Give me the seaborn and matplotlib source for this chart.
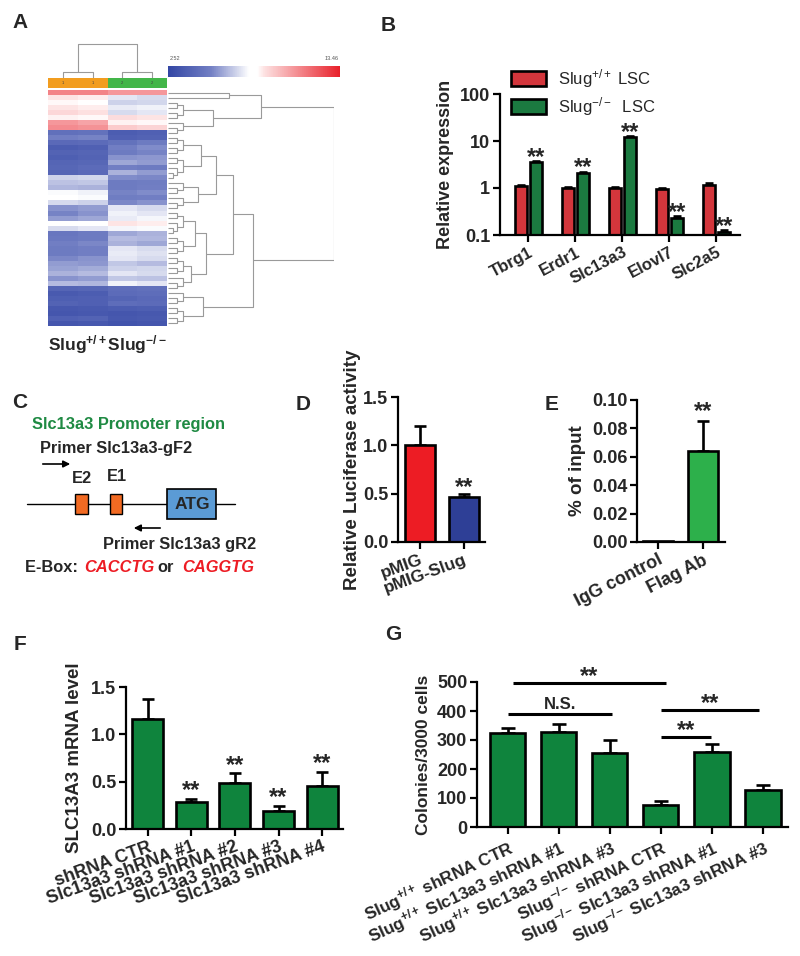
import numpy as np
import pandas as pd
import matplotlib
matplotlib.use("Agg")
import matplotlib.pyplot as plt
import seaborn as sns
from matplotlib.colors import LinearSegmentedColormap, ListedColormap
from matplotlib.patches import Rectangle

sns.set_style("ticks")
plt.rcParams['font.family'] = ['Liberation Sans', 'DejaVu Sans']
plt.rcParams['mathtext.fontset'] = 'custom'
plt.rcParams['mathtext.rm'] = 'Liberation Sans'
plt.rcParams['mathtext.bf'] = 'Liberation Sans:bold'
plt.rcParams['mathtext.it'] = 'Liberation Sans:italic'

# ---------------- data ----------------
# Panel A heatmap: rows x [Slug+/+ rep1, rep2, Slug-/- rep1, rep2]
heat_rows = [
    [11.0, 11.0, 10.5, 10.5], [8.6, 8.5, 7.2, 7.0], [8.3, 8.2, 6.8, 6.9],
    [8.6, 8.5, 7.3, 7.4], [8.9, 8.7, 7.0, 7.2], [8.4, 8.3, 8.8, 8.6],
    [10.5, 10.2, 8.4, 8.3], [10.8, 10.6, 9.2, 9.0], [4.5, 4.6, 3.6, 3.8],
    [5.2, 5.3, 3.8, 3.9], [4.2, 4.3, 4.6, 5.0], [3.6, 3.8, 5.2, 5.5],
    [3.9, 4.0, 5.0, 5.3], [3.7, 3.9, 5.6, 5.7], [4.0, 4.1, 6.0, 5.8],
    [4.1, 4.3, 5.2, 5.0], [4.0, 4.2, 6.2, 5.8], [6.8, 6.9, 5.5, 5.4],
    [6.5, 6.6, 5.0, 5.1], [6.3, 6.2, 5.0, 5.2], [7.6, 7.4, 5.3, 5.5],
    [7.8, 7.6, 5.1, 5.2], [7.0, 6.8, 5.4, 5.6], [5.6, 5.8, 7.2, 7.0],
    [5.3, 5.6, 7.4, 7.2], [5.8, 6.0, 7.3, 7.5], [7.9, 7.8, 8.6, 8.5],
    [7.0, 7.2, 7.5, 7.6], [4.8, 5.0, 6.0, 6.2], [4.9, 5.0, 6.4, 6.3],
    [5.2, 5.4, 6.2, 6.0], [5.0, 5.2, 7.2, 7.0], [5.0, 5.2, 7.3, 7.1],
    [5.4, 5.6, 7.2, 7.0], [5.8, 5.7, 6.6, 6.4], [5.9, 6.1, 6.8, 6.9],
    [6.2, 6.4, 7.2, 7.0], [5.6, 5.8, 6.6, 6.5], [6.4, 6.3, 7.4, 7.2],
    [4.0, 4.1, 4.4, 4.5], [3.5, 3.6, 4.3, 4.4], [3.7, 3.8, 4.0, 4.2],
    [3.9, 3.8, 4.4, 4.3], [3.4, 3.5, 3.6, 3.7], [3.3, 3.4, 3.3, 3.4],
    [3.8, 3.9, 3.4, 3.5], [3.3, 3.4, 3.2, 3.3],
]
heat_groups = [1, 1, 2, 2]
heat_min, heat_max = 2.52, 13.46
# row dendrogram: (height, left, right); integers = leaf blocks of rows
row_tree = (1.0,
            (0.56, (0.37, 1, 1), (0.27, 4, 3)),
            (0.51,
             (0.39, (0.29, (0.20, 4, 5), (0.18, 3, 3)),
                    (0.23, (0.16, 5, 4), (0.14, 4, 3))),
             (0.21, 3, 4)))
col_tree = (0.94, (0.17, 1, 1), (0.17, 1, 1))

# Panel B
b_genes = ['Tbrg1', 'Erdr1', 'Slc13a3', 'Elovl7', 'Slc2a5']
b_wt = [1.1, 1.0, 1.0, 0.95, 1.15]
b_wt_err = [0.08, 0.05, 0.04, 0.04, 0.1]
b_ko = [3.5, 2.1, 12.0, 0.23, 0.115]
b_ko_err = [0.3, 0.12, 0.6, 0.025, 0.012]

# Panel D
d_cats = ['pMIG', 'pMIG-Slug']
d_vals = [1.0, 0.463]
d_err = [0.2, 0.03]
# Panel E
e_cats = ['IgG control', 'Flag Ab']
e_vals = [0.0006, 0.0644]
e_err = [0.0, 0.021]
# Panel F
f_cats = ['shRNA CTR', 'Slc13a3 shRNA #1', 'Slc13a3 shRNA #2',
          'Slc13a3 shRNA #3', 'Slc13a3 shRNA #4']
f_vals = [1.16, 0.285, 0.49, 0.19, 0.457]
f_err = [0.21, 0.035, 0.1, 0.055, 0.15]
# Panel G
g_cats = [r'Slug$^{\mathbf{+/+}}$ shRNA CTR',
          r'Slug$^{\mathbf{+/+}}$ Slc13a3 shRNA #1',
          r'Slug$^{\mathbf{+/+}}$ Slc13a3 shRNA #3',
          r'Slug$^{\mathbf{-/-}}$ shRNA CTR',
          r'Slug$^{\mathbf{-/-}}$ Slc13a3 shRNA #1',
          r'Slug$^{\mathbf{-/-}}$ Slc13a3 shRNA #3']
g_vals = [324, 328, 255, 77, 257, 129]
g_err = [17, 27, 46, 11, 29, 17]
g_brackets = [(0.1, 3.1, 495, '**'), (0.0, 2.04, 388, 'N.S.'),
              (3.0, 4.92, 403, '**'), (3.0, 3.98, 310, '**')]

RED = '#ed1c24'
GREEN_B = '#0b8a3c'
BLUE = '#2e3f96'
GREEN_E = '#2db04b'
GREEN_FG = '#0f843d'
LW = 1.9
TICK_FS = 13
YLAB_FS = 12.5
STAR_FS = 17

W, H = 800, 956
fig = plt.figure(figsize=(W / 100, H / 100), dpi=100)


def pax(x0, y0, x1, y1):
    return fig.add_axes([x0 / W, 1 - y1 / H, (x1 - x0) / W, (y1 - y0) / H])


ov = fig.add_axes([0, 0, 1, 1])
ov.set_xlim(0, W)
ov.set_ylim(H, 0)
ov.axis('off')

# panel letters
for lab, x, y in [('A', 20, 22), ('B', 388, 25), ('C', 20, 402), ('D', 303, 405),
                  ('E', 552, 405), ('F', 20, 645), ('G', 393, 635)]:
    ov.text(x, y, lab, fontsize=15, fontweight='bold', ha='center', va='center')

# ---------------- Panel A ----------------
cmap = LinearSegmentedColormap.from_list('bwr2', [
    (0.0, '#3346a4'), (0.25, '#7380c4'), (0.47, '#ffffff'), (0.52, '#ffffff'),
    (0.56, '#fde2e2'), (1.0, '#e8202a')])
hm_ax = pax(48, 90, 167, 326)
cb_ax = pax(168, 66, 340, 77)
hm = pd.DataFrame(heat_rows)
sns.heatmap(hm, ax=hm_ax, cmap=cmap, vmin=heat_min, vmax=heat_max,
            cbar_ax=cb_ax, cbar_kws={'orientation': 'horizontal'},
            xticklabels=False, yticklabels=False)
cb_ax.set_xticks([])
cb_ax.tick_params(length=0)
for s in cb_ax.spines.values():
    s.set_visible(False)
ov.text(170, 58, f'{heat_min:.2f}', fontsize=4, color='#555555', ha='left', va='center')
ov.text(339, 58, f'{heat_max:.2f}', fontsize=4, color='#555555', ha='right', va='center')

an_ax = pax(48, 78, 167, 88)
sns.heatmap(pd.DataFrame([heat_groups]), ax=an_ax, cmap=ListedColormap(['#f29d1f', '#43b649']),
            cbar=False, xticklabels=False, yticklabels=False, linewidths=0)
for i, g in enumerate(heat_groups):
    an_ax.text(i + 0.5, 0.5, str(g), fontsize=3, ha='center', va='center', color='#444444')

DCOL = '#9a9a9a'


def seg(ax, ha, hb, c, horiz):
    if horiz:
        ax.plot([ha, hb], [c, c], color=DCOL, lw=0.8, solid_capstyle='butt')
    else:
        ax.plot([c, c], [ha, hb], color=DCOL, lw=0.8, solid_capstyle='butt')


def vseg(ax, h, c1, c2, horiz):
    if horiz:
        ax.plot([h, h], [c1, c2], color=DCOL, lw=0.8)
    else:
        ax.plot([c1, c2], [h, h], color=DCOL, lw=0.8)


def mini(ax, start, n, hmax, horiz):
    # small comb for a leaf block
    if n == 1:
        return start + 0.5, 0.0
    a = n // 2
    c1, h1 = mini(ax, start, a, hmax * 0.6, horiz)
    c2, h2 = mini(ax, start + a, n - a, hmax * 0.6, horiz)
    seg(ax, h1, hmax, c1, horiz)
    seg(ax, h2, hmax, c2, horiz)
    vseg(ax, hmax, c1, c2, horiz)
    return (c1 + c2) / 2, hmax


def draw_tree(ax, node, start, horiz, leafmax):
    if isinstance(node, int):
        c, h = mini(ax, start, node, leafmax, horiz)
        return c, h, start + node
    h, L, R = node
    c1, h1, s = draw_tree(ax, L, start, horiz, leafmax)
    c2, h2, s = draw_tree(ax, R, s, horiz, leafmax)
    seg(ax, h1, h, c1, horiz)
    seg(ax, h2, h, c2, horiz)
    vseg(ax, h, c1, c2, horiz)
    return (c1 + c2) / 2, h, s


rd_ax = pax(168, 90, 334, 326)
draw_tree(rd_ax, row_tree, 0, True, 0.09)
rd_ax.set_xlim(0, 1.0)
rd_ax.set_ylim(len(heat_rows), 0)
rd_ax.axis('off')

cd_ax = pax(48, 42, 167, 78)
draw_tree(cd_ax, col_tree, 0, False, 0.0)
cd_ax.set_xlim(0, 4)
cd_ax.set_ylim(0, 1)
cd_ax.axis('off')

ov.text(48, 345, r'Slug$^{\mathbf{+/+}}$Slug$^{\mathbf{-/-}}$', fontsize=12.5,
        fontweight='bold', ha='left', va='center')


# ---------------- helpers ----------------
def style_axes(ax):
    sns.despine(ax=ax)
    for s in ['left', 'bottom']:
        ax.spines[s].set_linewidth(1.6)
        ax.spines[s].set_color('black')
    ax.tick_params(axis='both', which='major', width=1.6, length=5, color='black',
                   labelsize=TICK_FS, direction='out', pad=2)
    ax.tick_params(axis='both', which='minor', length=0)
    for lab in ax.get_yticklabels():
        lab.set_fontweight('bold')
    ax.set_xlabel('')


def up_err(ax, x, v, e, cap=4.0):
    ax.errorbar(x, v, yerr=[np.zeros(len(v)), e], fmt='none', ecolor='black',
                elinewidth=LW, capsize=cap, capthick=LW, zorder=1)


def stars(ax, x, y, txt='**', fs=STAR_FS, off=0.0):
    ax.annotate(txt, (x, y), xytext=(0, off), textcoords='offset points',
                ha='center', va='baseline', fontsize=fs, fontweight='bold',
                annotation_clip=False)


def rot_labels(ax, labels, rot, fs=12):
    ax.set_xticks(range(len(labels)))
    ax.set_xticklabels(labels, rotation=rot, ha='right', rotation_mode='anchor',
                       fontsize=fs, fontweight='bold')


# ---------------- Panel B ----------------
bax = pax(500, 94, 740, 235)
dfb = pd.DataFrame({
    'gene': b_genes * 2,
    'val': b_wt + b_ko,
    'grp': [r'Slug$^{+/+}$ LSC'] * 5 + [r'Slug$^{-/-}$  LSC'] * 5,
})
sns.barplot(data=dfb, x='gene', y='val', hue='grp', ax=bax, errorbar=None,
            palette=[RED, GREEN_B], width=0.64, gap=0.18, edgecolor='black',
            linewidth=LW, zorder=2, log_scale=(False, True))
bax.set_yscale('log')
bax.set_ylim(0.1, 100)
bax.set_xlim(-0.6, 4.5)
bax.set_yticks([0.1, 1, 10, 100])
bax.set_yticklabels(['0.1', '1', '10', '100'])
offs = 0.16
xs = np.arange(len(b_genes))
up_err(bax, xs - offs, np.array(b_wt), np.array(b_wt_err), cap=3)
up_err(bax, xs + offs, np.array(b_ko), np.array(b_ko_err), cap=3)
for i in range(len(b_genes)):
    stars(bax, xs[i] + offs, b_ko[i] + b_ko_err[i], off=-2)
style_axes(bax)
bax.minorticks_off()
bax.set_ylabel('Relative expression', fontsize=13, fontweight='bold', labelpad=4)
rot_labels(bax, b_genes, 28, fs=12)
handles, labels = bax.get_legend_handles_labels()
bax.legend(handles, labels, loc='upper left', bbox_to_anchor=(511 / W, 1 - 67 / H),
           bbox_transform=fig.transFigure, frameon=False, fontsize=12,
           handlelength=2.1, handleheight=1.0, handletextpad=0.7, labelspacing=0.3,
           borderaxespad=0, borderpad=0)

# ---------------- Panel C ----------------
CFS = 11.8
ov.text(32, 424, 'Slc13a3 Promoter region', fontsize=CFS, fontweight='bold',
        color='#1f8a43', va='center')
ov.text(40, 448, 'Primer Slc13a3-gF2', fontsize=CFS, fontweight='bold', va='center')
ov.annotate('', xy=(73, 464), xytext=(40, 464),
            arrowprops=dict(arrowstyle='-|>', color='black', lw=1.2, mutation_scale=10))
ov.text(82, 478, 'E2', fontsize=CFS, fontweight='bold', ha='center', va='center')
ov.text(117, 476, 'E1', fontsize=CFS, fontweight='bold', ha='center', va='center')
ov.plot([27, 235], [504, 504], color='black', lw=1.0)
ov.add_patch(Rectangle((75, 494), 13, 20, facecolor='#f26a22', edgecolor='black', lw=1.0, zorder=3))
ov.add_patch(Rectangle((110, 494), 12, 20, facecolor='#f26a22', edgecolor='black', lw=1.0, zorder=3))
ov.add_patch(Rectangle((167, 489), 49, 30, facecolor='#5b9bd5', edgecolor='black', lw=1.2, zorder=3))
ov.text(192, 504, 'ATG', fontsize=12.5, fontweight='bold', ha='center', va='center', zorder=4)
ov.annotate('', xy=(131, 528), xytext=(163, 528),
            arrowprops=dict(arrowstyle='-|>', color='black', lw=1.2, mutation_scale=10))
ov.text(103, 544, 'Primer Slc13a3 gR2', fontsize=CFS, fontweight='bold', va='center')
ov.text(25, 568, 'E-Box: ', fontsize=CFS, fontweight='bold', va='center')
ov.text(84, 568, 'CACCTG', fontsize=CFS, fontweight='bold', fontstyle='italic',
        color='#ed1c24', va='center')
ov.text(157, 568, 'or', fontsize=CFS, fontweight='bold', va='center')
ov.text(182, 568, 'CAGGTG', fontsize=CFS, fontweight='bold', fontstyle='italic',
        color='#ed1c24', va='center')

# ---------------- Panel D ----------------
dax = pax(398, 397, 485, 542)
sns.barplot(x=d_cats, y=d_vals, ax=dax, palette=[RED, BLUE], hue=d_cats, legend=False,
            width=0.68, edgecolor='black', linewidth=LW, zorder=2, saturation=1)
up_err(dax, np.arange(2), np.array(d_vals), np.array(d_err), cap=4.5)
dax.set_ylim(0, 1.5)
dax.set_xlim(-0.5, 1.48)
dax.set_yticks([0, 0.5, 1.0, 1.5])
dax.set_yticklabels(['0.0', '0.5', '1.0', '1.5'])
style_axes(dax)
dax.set_ylabel('Relative Luciferase activity', fontsize=13.5, fontweight='bold', labelpad=4)
dax.yaxis.set_label_coords(-0.42, 0.5)
rot_labels(dax, d_cats, 20, fs=12.5)
stars(dax, 1, d_vals[1] + d_err[1])

# ---------------- Panel E ----------------
eax = pax(637, 400, 725, 542)
sns.barplot(x=e_cats, y=e_vals, ax=eax, palette=[GREEN_E, GREEN_E], hue=e_cats, legend=False,
            width=0.67, edgecolor='black', linewidth=LW, zorder=2, saturation=1)
up_err(eax, np.array([1]), np.array(e_vals[1:]), np.array(e_err[1:]), cap=4.5)
eax.set_ylim(0, 0.10)
eax.set_xlim(-0.47, 1.49)
eax.set_yticks([0, 0.02, 0.04, 0.06, 0.08, 0.10])
eax.set_yticklabels(['0.00', '0.02', '0.04', '0.06', '0.08', '0.10'])
style_axes(eax)
eax.set_ylabel('% of input', fontsize=YLAB_FS + 1, fontweight='bold', labelpad=4)
rot_labels(eax, e_cats, 27, fs=13)
stars(eax, 1, e_vals[1] + e_err[1], off=2)

# ---------------- Panel F ----------------
fax = pax(126, 687, 343, 829)
sns.barplot(x=f_cats, y=f_vals, ax=fax, color=GREEN_FG, width=0.71,
            edgecolor='black', linewidth=LW, zorder=2, saturation=1)
up_err(fax, np.arange(5), np.array(f_vals), np.array(f_err), cap=4.5)
fax.set_ylim(0, 1.5)
fax.set_xlim(-0.5, 4.48)
fax.set_yticks([0, 0.5, 1.0, 1.5])
fax.set_yticklabels(['0.0', '0.5', '1.0', '1.5'])
style_axes(fax)
fax.set_ylabel('SLC13A3 mRNA level', fontsize=13.5, fontweight='bold', labelpad=6)
rot_labels(fax, f_cats, 20, fs=13)
for i in range(1, 5):
    stars(fax, i, f_vals[i] + f_err[i], off=1)

# ---------------- Panel G ----------------
gax = pax(477, 682, 788, 827)
sns.barplot(x=list(range(6)), y=g_vals, ax=gax, color=GREEN_FG, width=0.69,
            edgecolor='black', linewidth=LW, zorder=2, saturation=1)
up_err(gax, np.arange(6), np.array(g_vals), np.array(g_err), cap=5)
gax.set_ylim(0, 500)
gax.set_xlim(-0.6, 5.49)
gax.set_yticks([0, 100, 200, 300, 400, 500])
style_axes(gax)
gax.set_ylabel('Colonies/3000 cells', fontsize=YLAB_FS, fontweight='bold', labelpad=4)
rot_labels(gax, g_cats, 25, fs=12.3)
for x0, x1, yv, txt in g_brackets:
    gax.plot([x0, x1], [yv, yv], color='black', lw=2.2, clip_on=False,
             solid_capstyle='butt')
    if txt == 'N.S.':
        gax.annotate(txt, ((x0 + x1) / 2, yv), xytext=(0, 4), textcoords='offset points',
                     ha='center', va='baseline', fontsize=12, fontweight='bold',
                     annotation_clip=False)
    else:
        stars(gax, (x0 + x1) / 2, yv, off=0)

fig.savefig('out.png', dpi=100)
